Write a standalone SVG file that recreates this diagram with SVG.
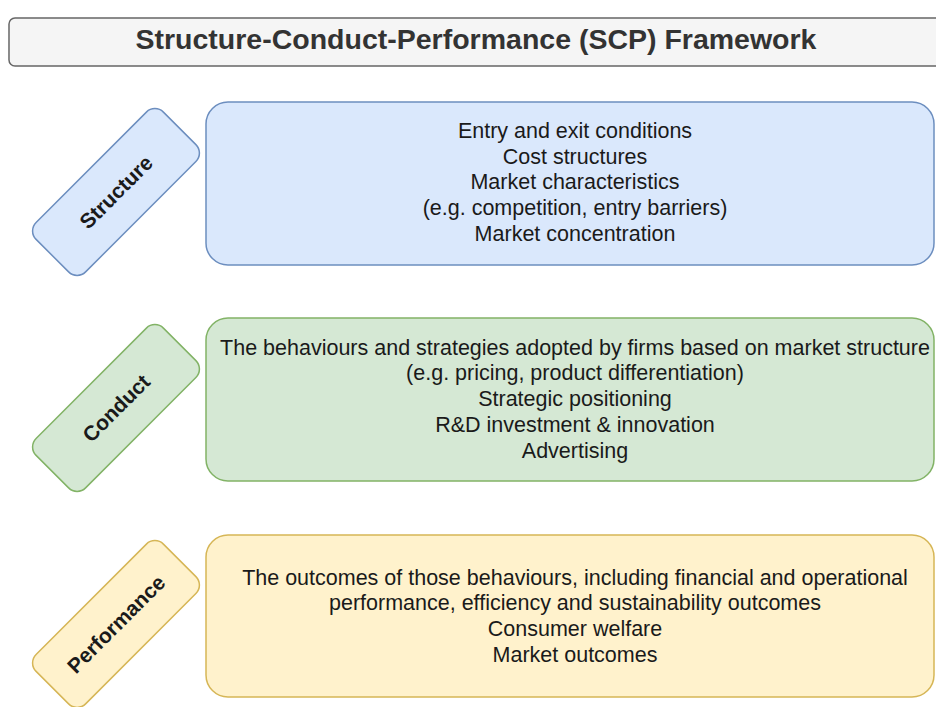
<svg xmlns="http://www.w3.org/2000/svg" width="936" height="707" viewBox="0 0 936 707">
<style>
.t{font-family:"Liberation Sans",Arial,Helvetica,sans-serif;font-size:21.5px;fill:#1a1a1a;text-anchor:middle;dominant-baseline:central}
.lab{font-family:"Liberation Sans",Arial,Helvetica,sans-serif;font-size:21px;font-weight:bold;fill:#1a1a1a;text-anchor:middle;dominant-baseline:central}
.title{font-family:"Liberation Sans",Arial,Helvetica,sans-serif;font-size:28.5px;font-weight:bold;fill:#333333;text-anchor:middle;dominant-baseline:central}
.blue{fill:#dae8fc;stroke:#6c8ebf;stroke-width:1.5}
.green{fill:#d5e8d4;stroke:#82b366;stroke-width:1.5}
.yellow{fill:#fff2cc;stroke:#d6b656;stroke-width:1.5}
</style>
<rect width="936" height="707" fill="#ffffff"/>
<g id="title">
<rect x="9" y="18" width="940" height="48" rx="6" fill="#f5f5f5" stroke="#666666" stroke-width="1.5"/>
<text class="title" x="476" y="39">Structure-Conduct-Performance (SCP) Framework</text>
</g>
<g id="structure-label" transform="translate(116,192) rotate(-45)">
<rect x="-90" y="-35" width="180" height="70" rx="12" class="blue"/>
<text class="lab" x="0" y="0">Structure</text>
</g>
<g id="structure-box">
<rect x="206" y="102" width="728" height="163" rx="22" class="blue"/>
<text class="t" x="575" y="131">Entry and exit conditions</text>
<text class="t" x="575" y="157">Cost structures</text>
<text class="t" x="575" y="182">Market characteristics</text>
<text class="t" x="575" y="208">(e.g. competition, entry barriers)</text>
<text class="t" x="575" y="234">Market concentration</text>
</g>
<g id="conduct-label" transform="translate(116,408) rotate(-45)">
<rect x="-90" y="-35" width="180" height="70" rx="12" class="green"/>
<text class="lab" x="0" y="0">Conduct</text>
</g>
<g id="conduct-box">
<rect x="206" y="318" width="728" height="163" rx="22" class="green"/>
<text class="t" x="575" y="348">The behaviours and strategies adopted by firms based on market structure</text>
<text class="t" x="575" y="373">(e.g. pricing, product differentiation)</text>
<text class="t" x="575" y="399">Strategic positioning</text>
<text class="t" x="575" y="425">R&amp;D investment &amp; innovation</text>
<text class="t" x="575" y="451">Advertising</text>
</g>
<g id="performance-label" transform="translate(116,624) rotate(-45)">
<rect x="-90" y="-35" width="180" height="70" rx="12" class="yellow"/>
<text class="lab" x="0" y="0">Performance</text>
</g>
<g id="performance-box">
<rect x="206" y="535" width="728" height="162" rx="22" class="yellow"/>
<text class="t" x="575" y="578">The outcomes of those behaviours, including financial and operational</text>
<text class="t" x="575" y="603">performance, efficiency and sustainability outcomes</text>
<text class="t" x="575" y="629">Consumer welfare</text>
<text class="t" x="575" y="655">Market outcomes</text>
</g>
<g id="connectors"></g>
</svg>
